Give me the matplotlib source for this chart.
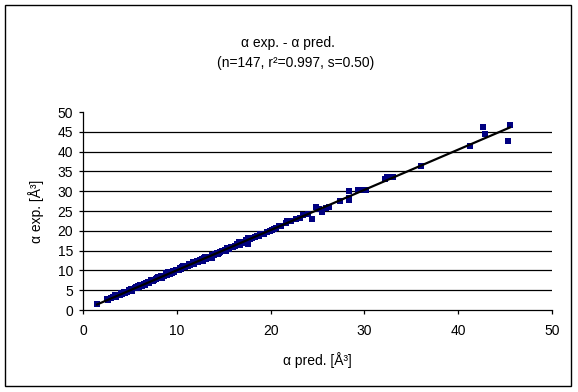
import numpy as np
import matplotlib
matplotlib.use('Agg')
import matplotlib.pyplot as plt
from matplotlib.patches import Rectangle

plt.rcParams['font.family'] = ['Liberation Sans', 'DejaVu Sans']

# alpha predicted / experimental [A^3]
x_pred = [1.5, 2.6, 2.7, 3.0, 3.2, 3.4, 3.5, 3.7, 3.9, 4.0, 4.2, 4.4, 4.5, 4.7, 4.9,
          5.1, 5.2, 5.5, 5.6, 5.8, 5.9, 6.0, 6.1, 6.3, 6.5, 6.6, 6.7, 6.9, 7.0, 7.2,
          7.3, 7.5, 7.6, 7.8, 7.9, 8.0, 8.1, 8.3, 8.4, 8.6, 8.8, 8.9, 9.0, 9.1, 9.3,
          9.4, 9.5, 9.6, 9.7, 9.9, 10.0, 10.2, 10.3, 10.5, 10.6, 10.7, 10.9, 11.0, 11.2,
          11.3, 11.4, 11.5, 11.7, 11.8, 12.0, 12.2, 12.3, 12.5, 12.6, 12.7, 12.8, 12.9,
          13.0, 13.1, 13.3, 13.5, 13.6, 13.7, 13.8, 14.0, 14.1, 14.3, 14.4, 14.5, 14.6,
          14.8, 15.0, 15.1, 15.2, 15.3, 15.4, 15.6, 15.8, 16.0, 16.2, 16.4, 16.6, 16.7,
          16.8, 17.0, 17.2, 17.4, 17.6, 17.6, 17.8, 18.0, 18.3, 18.6, 18.8, 18.9, 19.1,
          19.3, 19.6, 19.9, 20.1, 20.4, 20.6, 20.9, 21.1, 21.6, 21.7,
          22.2, 22.7, 23.1, 23.5, 24.0, 24.4, 24.8, 25.0, 25.2, 25.5, 25.9, 26.2, 27.4,
          28.4, 28.4, 28.4, 29.3, 29.9, 30.2,
          32.2, 32.4, 33.1, 36.0, 41.3, 42.6, 42.9, 45.3, 45.5]
y_exp = [1.6, 2.7, 2.5, 3.0, 3.3, 3.7, 3.4, 3.9, 3.8, 4.2, 4.1, 4.6, 4.3, 4.5, 5.0,
         5.3, 4.9, 5.6, 5.9, 5.6, 6.0, 5.8, 6.2, 6.1, 6.6, 6.3, 6.9, 7.0, 6.8, 7.3,
         7.6, 7.4, 7.7, 7.9, 8.1, 8.3, 8.0, 8.5, 8.2, 8.6, 8.9, 9.4, 8.8, 9.6, 9.2,
         9.5, 9.3, 9.9, 9.6, 10.0, 10.2, 10.1, 10.6, 10.4, 10.8, 11.1, 10.8, 11.2, 11.0,
         11.5, 11.3, 11.7, 12.1, 11.6, 12.0, 12.3, 12.0, 12.6, 12.4, 12.9, 12.3, 13.2,
         13.4, 12.8, 13.3, 13.5, 13.2, 13.1, 13.8, 13.8, 14.2, 14.3, 14.1, 14.4, 14.7,
         14.9, 15.0, 15.2, 15.0, 15.4, 15.7, 15.5, 15.8, 15.9, 16.2, 16.6, 17.1, 16.5,
         16.9, 17.0, 17.2, 17.8, 16.6, 18.2, 18.0, 18.2, 18.4, 18.8, 18.7, 19.2, 19.3,
         19.1, 19.8, 20.0, 20.3, 20.5, 20.8, 21.2, 21.1, 21.9, 22.5,
         22.4, 23.1, 23.3, 23.9, 24.2, 23.1, 25.9, 25.4, 25.6, 24.8, 25.8, 26.0, 27.5,
         30.1, 28.2, 27.7, 30.2, 30.3, 30.4,
         33.1, 33.6, 33.7, 36.4, 41.3, 46.2, 44.4, 42.7, 46.8]

title1 = '\u03b1 exp. - \u03b1 pred.'
title2 = '(n=147, r\u00b2=0.997, s=0.50)'
xlab = '\u03b1 pred. [\u00c5\u00b3]'
ylab = '\u03b1 exp. [\u00c5\u00b3]'

x = np.array(x_pred)
y = np.array(y_exp)

fig = plt.figure(figsize=(5.78, 3.92), dpi=100)
ax = fig.add_axes([83/578, 1-310/392, (552-83)/578, (310-112)/392])

ax.set_xlim(0, 50)
ax.set_ylim(0, 50)
ax.set_xticks(range(0, 51, 10))
ax.set_yticks(range(0, 51, 5))

ax.yaxis.grid(True, color='black', linewidth=0.9)
ax.get_ygridlines()[-1].set_visible(False)
ax.get_ygridlines()[0].set_visible(False)
ax.set_axisbelow(True)

ax.scatter(x, y, marker='s', s=16, color='#000080', linewidths=0, zorder=3)

# linear trendline
k, b0 = np.polyfit(x, y, 1)
xt = np.array([x.min(), x.max()])
ax.plot(xt, k*xt + b0, color='black', linewidth=1.6, zorder=4)

for s in ['top', 'right']:
    ax.spines[s].set_visible(False)
for s in ['left', 'bottom']:
    ax.spines[s].set_linewidth(0.9)
ax.tick_params(direction='out', length=3, width=0.9, labelsize=10)
ax.tick_params(axis='x', pad=7)
ax.tick_params(axis='y', pad=4)

ax.set_xlabel(xlab, fontsize=10, labelpad=10)
ax.set_ylabel(ylab, fontsize=10, labelpad=10)

fig.text(288/578, 1-43/392, title1, ha='center', va='center', fontsize=10)
fig.text(296/578, 1-63/392, title2, ha='center', va='center', fontsize=10)

fig.patches.append(Rectangle((5/578, 6/392), 566/578, 381/392, transform=fig.transFigure,
                             fill=False, edgecolor='black', linewidth=1.0))

fig.savefig('out.png', dpi=100)
